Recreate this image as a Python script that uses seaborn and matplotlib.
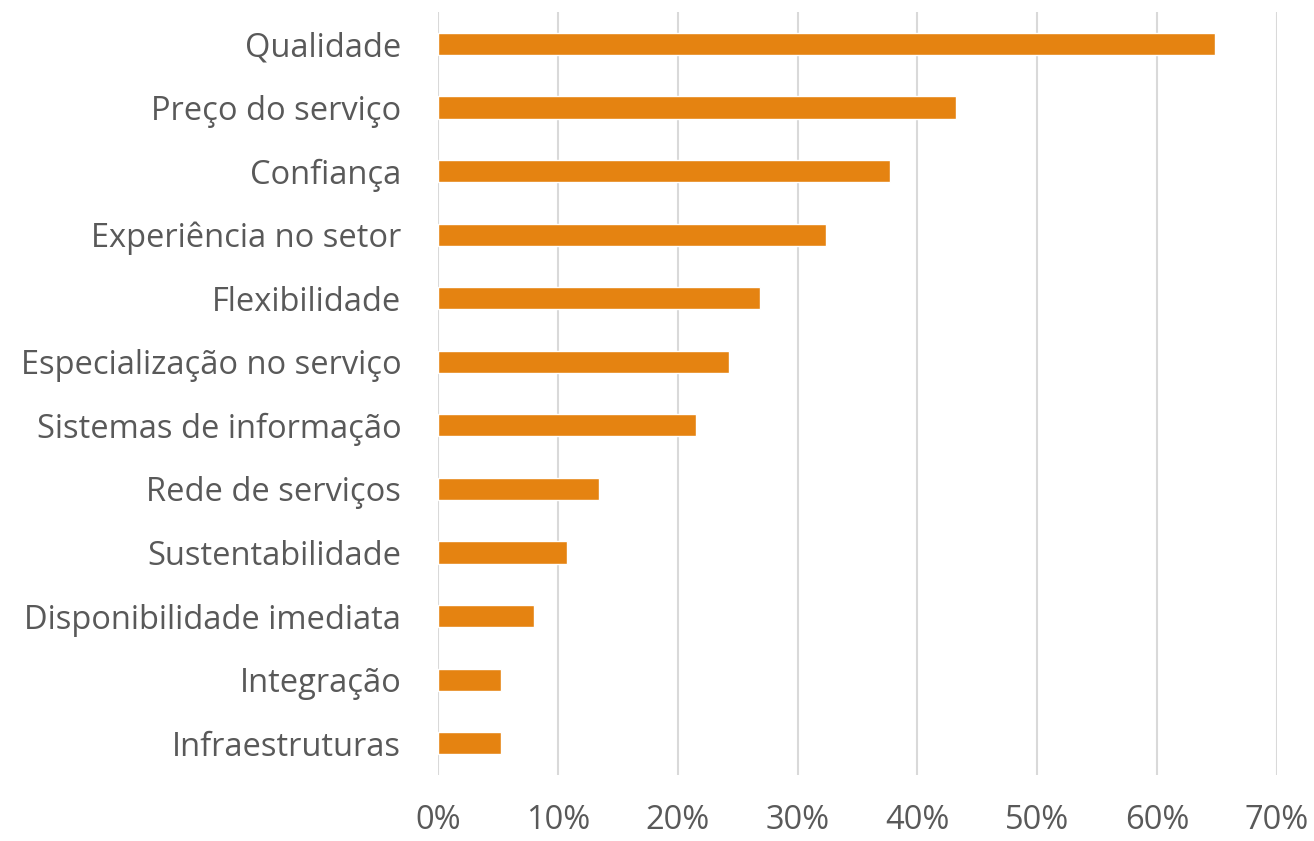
import matplotlib
matplotlib.use("Agg")
import matplotlib.pyplot as plt
import seaborn as sns
import pandas as pd

categories = ["Qualidade", "Preço do serviço", "Confiança", "Experiência no setor",
              "Flexibilidade", "Especialização no serviço", "Sistemas de informação",
              "Rede de serviços", "Sustentabilidade", "Disponibilidade imediata",
              "Integração", "Infraestruturas"]
values = [0.648, 0.432, 0.377, 0.324, 0.269, 0.243, 0.215, 0.134, 0.108, 0.080, 0.053, 0.053]
xticks = [0, 0.1, 0.2, 0.3, 0.4, 0.5, 0.6, 0.7]
xtick_labels = ["0%", "10%", "20%", "30%", "40%", "50%", "60%", "70%"]

sns.set_theme(style="white")
plt.rcParams['font.family'] = ['Open Sans', 'DejaVu Sans']

df = pd.DataFrame({"cat": categories, "val": values})
fig = plt.figure(figsize=(13.14, 8.41), dpi=100)
ax = fig.add_axes([0.3333, 0.0785, 0.6385, 0.907])
sns.barplot(data=df, x="val", y="cat", color="#E58311", saturation=1, width=0.35, ax=ax)
ax.set_xlim(0, 0.7)
ax.set_ylim(11.5, -0.5)
ax.set_xticks(xticks)
ax.set_xticklabels(xtick_labels)
ax.grid(axis="x", color="#D9D9D9", linewidth=1.5)
ax.set_axisbelow(True)
for s in ax.spines.values():
    s.set_visible(False)
ax.set_xlabel("")
ax.set_ylabel("")
ax.tick_params(axis="both", length=0, labelsize=23.5, colors="#595959")
ax.tick_params(axis="x", pad=21)
ax.tick_params(axis="y", pad=26.5)
fig.savefig("out.png", dpi=100)
